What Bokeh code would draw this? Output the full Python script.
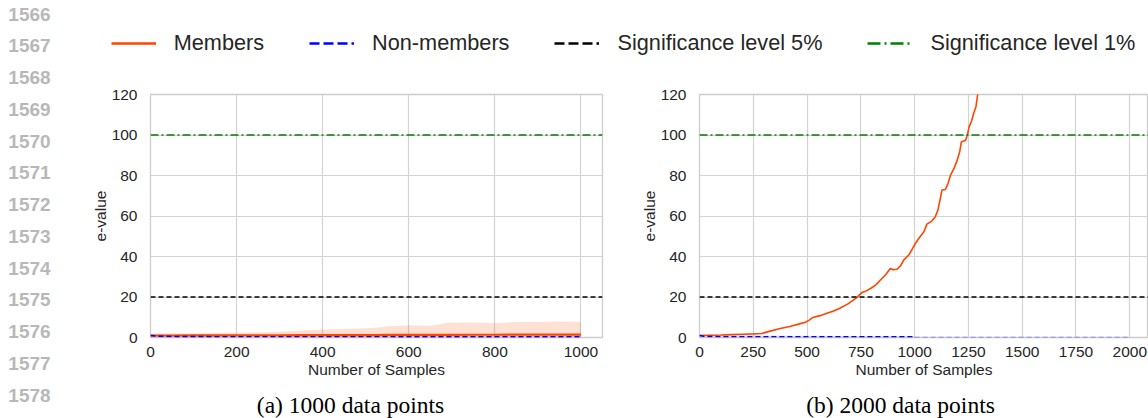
from bokeh.plotting import figure
from bokeh.models import Range1d, FixedTicker, Span, Legend, LegendItem
from bokeh.layouts import row, column
from bokeh.embed import file_html
from bokeh.resources import INLINE
from bokeh.core.properties import value

# ---------------- data ----------------
line_numbers = [str(n) for n in range(1566, 1579)]
legend_labels = ["Members", "Non-members", "Significance level 5%", "Significance level 1%"]
captions = ["(a) 1000 data points", "(b) 2000 data points"]
x_axis_label = "Number of Samples"
y_axis_label = "e-value"
thresholds = [20, 100]  # significance 5% -> 20, 1% -> 100

left_ticks_x = [0, 200, 400, 600, 800, 1000]
right_ticks_x = [0, 250, 500, 750, 1000, 1250, 1500, 1750, 2000]
ticks_y = [0, 20, 40, 60, 80, 100, 120]

# (a) 1000 data points
left_x = [0, 50, 100, 150, 200, 250, 300, 350, 400, 450, 500, 530, 550, 600,
          650, 670, 690, 750, 800, 850, 900, 950, 1000]
left_members = [1.0, 1.0, 1.05, 1.05, 1.1, 1.1, 1.1, 1.15, 1.15, 1.2, 1.2, 1.2,
                1.25, 1.25, 1.3, 1.3, 1.3, 1.35, 1.35, 1.4, 1.4, 1.45, 1.45]
left_members_upper = [2.0, 2.0, 2.1, 2.2, 2.3, 2.5, 2.9, 3.4, 3.9, 4.2, 4.6, 5.0,
                      5.6, 6.1, 5.8, 6.5, 7.3, 7.4, 7.0, 7.6, 7.7, 7.9, 7.7]
left_members_lower = [0.0] * 23
left_non_x = [0, 20, 60, 150, 300, 500, 700, 900, 1000]
left_non = [1.0, 0.6, 0.45, 0.4, 0.35, 0.35, 0.3, 0.3, 0.3]
left_non_upper = [1.6, 1.5, 1.4, 1.3, 1.2, 1.1, 1.0, 1.0, 1.0]
left_non_lower = [0.0] * 9

# (b) 2000 data points
right_x = [0, 50, 100, 150, 200, 250, 290, 320, 375, 420, 460, 496, 510, 527, 560,
           589, 620, 650, 690, 729, 755, 775, 795, 820, 840, 865, 887, 900, 918,
           935, 949, 975, 1003, 1020, 1043, 1057, 1080, 1096, 1108, 1118, 1127,
           1143, 1155, 1167, 1185, 1198, 1210, 1217, 1237, 1245, 1253, 1265, 1274,
           1285, 1293, 1310]
right_members = [1.0, 1.1, 1.2, 1.4, 1.6, 1.8, 2.0, 2.9, 4.4, 5.4, 6.6, 7.7, 8.6,
                 9.9, 10.8, 11.9, 13.0, 14.3, 16.6, 19.6, 22.2, 23.0, 24.2, 26.0,
                 28.3, 31.0, 34.1, 33.5, 33.7, 35.5, 38.2, 41.0, 46.4, 49.0, 52.2,
                 56.0, 57.5, 59.6, 62.9, 68.0, 72.8, 73.1, 76.0, 80.2, 84.0, 87.6,
                 92.0, 96.6, 97.4, 100.0, 104.0, 107.0, 110.6, 114.0, 120.0, 132.0]
right_non_x = [0, 20, 60, 150, 300, 500, 700, 900, 1000]
right_non = [1.0, 0.6, 0.45, 0.4, 0.4, 0.4, 0.35, 0.35, 0.35]
right_non_upper = [1.6, 1.5, 1.3, 1.1, 1.0, 0.9, 0.8, 0.7, 0.6]
right_non_lower = [0.0] * 9
right_non_tail_x = [1000, 2000]
right_non_tail = [0.05, 0.05]

# ---------------- style ----------------
FONT = "Liberation Sans"
TXT = "#262626"
GRID = "#d3d3d3"
ORANGE = "#ff4500"
BLUE = "#0000ff"
GREEN = "#008000"
NUMCOL = "#b8b8b8"
NAN = float("nan")


def make_panel(width, border_left, border_right, x_end, xticks):
    p = figure(width=width, height=302, x_range=Range1d(0, x_end), y_range=Range1d(0, 120),
               output_backend="svg", toolbar_location=None,
               min_border_left=border_left, min_border_right=border_right,
               min_border_top=10, min_border_bottom=49,
               x_axis_label=x_axis_label, y_axis_label=y_axis_label)
    p.background_fill_color = "white"
    p.border_fill_color = "white"
    p.outline_line_color = "#cccccc"
    p.outline_line_width = 1.3
    p.xaxis.ticker = FixedTicker(ticks=xticks)
    p.yaxis.ticker = FixedTicker(ticks=ticks_y)
    p.xgrid.ticker = FixedTicker(ticks=xticks)
    p.ygrid.ticker = FixedTicker(ticks=ticks_y)
    p.grid.grid_line_color = GRID
    p.grid.grid_line_width = 1.2
    for ax in p.axis:
        ax.major_tick_line_color = None
        ax.minor_tick_line_color = None
        ax.axis_line_color = None
        ax.major_label_text_font = FONT
        ax.major_label_text_font_size = "15.5px"
        ax.major_label_text_color = TXT
        ax.axis_label_text_font = FONT
        ax.axis_label_text_font_size = "15.5px"
        ax.axis_label_text_font_style = "normal"
        ax.axis_label_text_color = TXT
    p.xaxis.major_label_standoff = 3
    p.xaxis.axis_label_standoff = 1
    p.yaxis.major_label_standoff = 7
    p.yaxis.axis_label_standoff = 0
    return p


def add_thresholds(p):
    p.add_layout(Span(location=thresholds[0], dimension="width", line_color="black",
                      line_dash="5 3", line_width=1.5))
    p.add_layout(Span(location=thresholds[1], dimension="width", line_color=GREEN,
                      line_dash="8 3 2 3", line_width=1.5))


# left panel: page x 58..612, frame 150..602, page y 84..386, frame 94..337
left = make_panel(554, 92, 10, 1050, left_ticks_x)
left.varea(x=left_x, y1=left_members_lower, y2=left_members_upper, fill_color=ORANGE, fill_alpha=0.17)
left.varea(x=left_non_x, y1=left_non_lower, y2=left_non_upper, fill_color=BLUE, fill_alpha=0.12)
add_thresholds(left)
left.line(left_x, left_members, line_color=ORANGE, line_width=2.2)
left.line(left_non_x, left_non, line_color=BLUE, line_width=1.6, line_dash="5 3")

# right panel: page x 612..1148, frame 699..1148
right = make_panel(536, 87, 0, 2087, right_ticks_x)
right.varea(x=right_non_x, y1=right_non_lower, y2=right_non_upper, fill_color=BLUE, fill_alpha=0.12)
add_thresholds(right)
right.line(right_x, right_members, line_color=ORANGE, line_width=1.6)
right.line(right_non_x, right_non, line_color=BLUE, line_width=1.5, line_dash="5 3")
right.line(right_non_tail_x, right_non_tail, line_color=BLUE, line_alpha=0.45,
           line_width=1.2, line_dash="5 3")


def blank(width, height):
    f = figure(width=width, height=height, x_range=Range1d(0, width), y_range=Range1d(height, 0),
               x_axis_type=None, y_axis_type=None, output_backend="svg",
               toolbar_location=None, min_border=0)
    f.outline_line_color = None
    f.grid.visible = False
    f.background_fill_color = "white"
    f.border_fill_color = "white"
    return f


# legend strip: page x 58..1148, y 0..84 (legend handles use placeholder renderers)
leg = blank(1090, 84)
h1 = leg.line([NAN], [NAN], line_color=ORANGE, line_width=2.4)
h2 = leg.line([NAN], [NAN], line_color=BLUE, line_width=2.4, line_dash="10 4")
h3 = leg.line([NAN], [NAN], line_color="black", line_width=2.4, line_dash="10 4")
h4 = leg.line([NAN], [NAN], line_color=GREEN, line_width=2.4, line_dash="13 4 2 4")
legend = Legend(items=[LegendItem(label=legend_labels[i], renderers=[r])
                       for i, r in enumerate([h1, h2, h3, h4])],
                orientation="horizontal", location=(52.7, 28),
                glyph_width=45, glyph_height=20, label_standoff=18, spacing=45,
                padding=0, margin=0, border_line_color=None, background_fill_alpha=0,
                label_text_font=FONT, label_text_font_size="21.7px",
                label_text_color=TXT)
leg.add_layout(legend)

# line numbers strip: page x 0..58, y 0..418
nums = blank(58, 418)
nums.text(x=[29] * len(line_numbers), y=[13.5 + 31.75 * i for i in range(len(line_numbers))],
          text=line_numbers, text_font=value(FONT), text_font_style="bold",
          text_font_size="19px", text_color=NUMCOL, text_align="center",
          text_baseline="middle")

# captions strip: page x 58..1148, y 386..418
cap = blank(1090, 32)
cap.text(x=[292, 842], y=[18, 18], text=captions, text_font=value("Liberation Serif"),
         text_font_size="23.5px", text_color="black", text_align="center",
         text_baseline="middle")

layout = row(nums, column(leg, row(left, right), cap))

open("out.html", "w").write(file_html(layout, INLINE))
